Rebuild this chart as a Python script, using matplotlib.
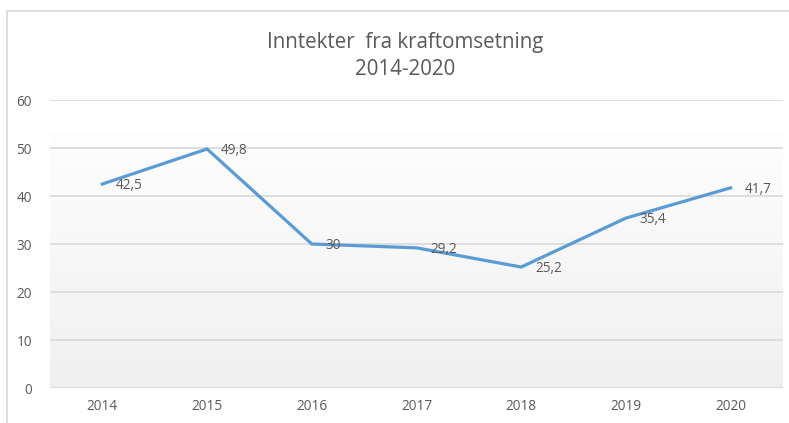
import matplotlib
matplotlib.use("Agg")
import matplotlib.pyplot as plt
import numpy as np
from matplotlib.patches import Rectangle

years = ["2014", "2015", "2016", "2017", "2018", "2019", "2020"]
values = [42.5, 49.8, 30, 29.2, 25.2, 35.4, 41.7]
labels = ["42,5", "49,8", "30", "29,2", "25,2", "35,4", "41,7"]
title = "Inntekter  fra kraftomsetning\n2014-2020"

plt.rcParams['font.family'] = ['Open Sans', 'DejaVu Sans']
W, H = 789, 423
fig = plt.figure(figsize=(W / 100, H / 100), dpi=100)
fig.patch.set_facecolor("white")

# outer border
fig.patches.append(Rectangle((7 / W, -0.01), 1.0, 1 - 11 / H + 0.01, transform=fig.transFigure,
                             fill=False, edgecolor="#D9D9D9", linewidth=1.2))

ax = fig.add_axes([50 / W, 1 - 388 / H, (783 - 50) / W, (388 - 100) / H])
ax.set_facecolor("none")
x = np.arange(len(years))
ax.set_xlim(-0.5, len(years) - 0.5)
ax.set_ylim(0, 60)

# gradient background
grad = np.linspace(0, 1, 256).reshape(-1, 1)
top = np.array([0.995, 0.995, 0.995])
bot = np.array([0.94, 0.94, 0.94])
img = top + (bot - top) * grad[:, :, None] * np.ones((1, 1, 3))
ax.imshow(img, extent=(-0.5, len(years) - 0.5, 0, 53.3), aspect="auto", zorder=0,
          interpolation="bilinear")

ax.set_yticks([0, 10, 20, 30, 40, 50, 60])
ax.yaxis.grid(True, color="#D9D9D9", linewidth=1.2, zorder=1)
ax.set_axisbelow(True)
for s in ax.spines.values():
    s.set_visible(False)
ax.tick_params(axis="both", length=0, colors="#595959", labelsize=9.8)
ax.tick_params(axis="y", pad=13)
ax.tick_params(axis="x", pad=8)
ax.set_xticks(x)
ax.set_xticklabels(years)

ax.plot(x, values, color="#5B9BD5", linewidth=2.3, solid_joinstyle="miter", zorder=3)
for xi, v, lab in zip(x, values, labels):
    ax.annotate(lab, (xi, v), xytext=(10, -1), textcoords="offset points",
                ha="left", va="center", fontsize=9.8, color="#595959", zorder=4)

fig.text(405 / W, 1 - 56 / H, title, ha="center", va="center", fontsize=14.8,
         color="#595959", linespacing=1.38)

fig.savefig("out.png", dpi=100)
